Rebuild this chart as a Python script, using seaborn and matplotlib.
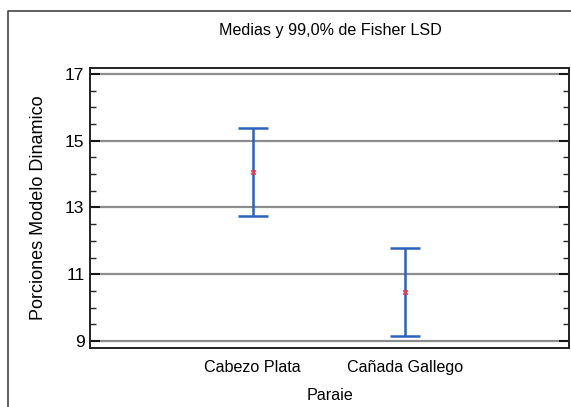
import matplotlib
matplotlib.use("Agg")
import matplotlib.pyplot as plt
import seaborn as sns
import pandas as pd
from matplotlib.lines import Line2D
from matplotlib.ticker import MultipleLocator

categories = ["Cabezo Plata", "Cañada Gallego"]
means = [14.07, 10.47]
lower = [12.75, 9.16]
upper = [15.38, 11.79]
yticks = [9, 11, 13, 15, 17]

sns.set_theme(style="white")
plt.rcParams['font.family'] = ['Liberation Sans', 'DejaVu Sans']
plt.rcParams['text.color'] = 'black'
plt.rcParams['axes.labelcolor'] = 'black'

df = pd.DataFrame({"Paraje": categories, "Media": means, "lo": lower, "hi": upper})
df["pos"] = range(len(categories))

fig = plt.figure(figsize=(5.71, 4.07), dpi=100)
ax = fig.add_axes([0.1576, 0.145, 0.839, 0.688])

for y in yticks:
    ax.axhline(y, color="#8c8c8c", lw=1.6, zorder=0)

ax.errorbar(df["pos"], df["Media"],
            yerr=[df["Media"] - df["lo"], df["hi"] - df["Media"]],
            fmt="none", ecolor="#2a62bd", elinewidth=1.8, capsize=11,
            capthick=1.8, zorder=2)
sns.scatterplot(data=df, x="pos", y="Media", marker="X", color="#e0405a",
                s=18, linewidth=0, ax=ax, zorder=3, legend=False)

ax.set_xlim(-1.07, 2.08)
ax.set_ylim(8.79, 17.18)
ax.set_xticks(df["pos"])
ax.set_xticklabels(categories, fontsize=11.6)
ax.set_yticks(yticks)
ax.set_yticklabels([str(v) for v in yticks], fontsize=12.5)
ax.yaxis.set_minor_locator(MultipleLocator(0.5))
ax.tick_params(axis="y", which="major", direction="in", length=7, width=1.2,
               left=True, right=True, pad=4, colors="black")
ax.tick_params(axis="y", which="minor", direction="in", length=4, width=1.0,
               left=True, right=True)
ax.tick_params(axis="x", which="both", length=0, pad=9, colors="black")
for s in ax.spines.values():
    s.set_color("#222222")
    s.set_linewidth(1.4)

ax.set_xlabel("Paraie", fontsize=11.6)
ax.xaxis.set_label_coords(0.5, -0.142)
ax.set_ylabel("Porciones Modelo Dinamico", fontsize=13)
ax.yaxis.set_label_coords(-0.09, 0.5)
fig.text(0.578, 0.925, "Medias y 99,0% de Fisher LSD", ha="center",
         va="center", fontsize=11.6, color="black")

# outer frame
fig.add_artist(Line2D([8/571, 8/571, 1.0], [0.0, 1-11/407, 1-11/407],
                      transform=fig.transFigure, color="#444444", lw=1.2))

fig.savefig("out.png", dpi=100)
